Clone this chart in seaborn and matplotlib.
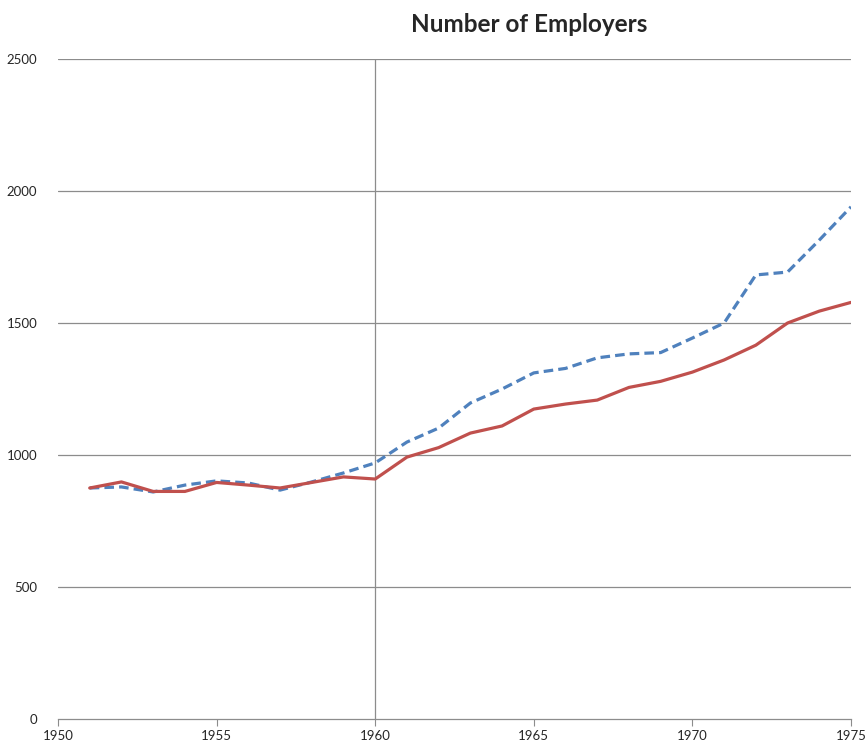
import matplotlib
matplotlib.use("Agg")
import matplotlib.pyplot as plt
import pandas as pd
import seaborn as sns

years = list(range(1951, 1976))
dashed_series = [875, 879, 860, 886, 902, 894, 867, 898, 932, 970,
                 1049, 1102, 1197, 1250, 1311, 1328, 1368, 1383, 1388, 1443,
                 1500, 1682, 1693, 1814, 1940]
solid_series = [875, 898, 862, 862, 896, 886, 875, 896, 917, 909,
                992, 1028, 1083, 1110, 1174, 1193, 1208, 1256, 1279, 1314,
                1360, 1416, 1500, 1545, 1578]
x_ticks = [1950, 1955, 1960, 1965, 1970, 1975]
y_ticks = [0, 500, 1000, 1500, 2000, 2500]

df = pd.DataFrame({
    "year": years * 2,
    "employers": dashed_series + solid_series,
    "series": ["dashed"] * len(years) + ["solid"] * len(years),
})

sns.set_style("white")
plt.rcParams["font.family"] = ["Lato", "DejaVu Sans"]

fig = plt.figure(figsize=(8.68, 7.46), dpi=100)
ax = fig.add_axes([58 / 868, 27 / 746, 793 / 868, 660 / 746])

grid_col = "#8c8c8c"
for v in y_ticks[1:]:
    ax.axhline(v, color=grid_col, lw=0.9, zorder=0)
ax.axvline(1960, color=grid_col, lw=0.9, zorder=0)

sns.lineplot(data=df, x="year", y="employers", hue="series", style="series",
             palette={"dashed": "#4F81BD", "solid": "#C0504D"},
             dashes={"dashed": (3, 1.6), "solid": ""},
             linewidth=2.3, legend=False, ax=ax)

ax.set_xlim(1950, 1975)
ax.set_ylim(0, 2500)
ax.set_xticks(x_ticks)
ax.set_yticks(y_ticks)
ax.set_xlabel("")
ax.set_ylabel("")
for s in ["left", "right", "top"]:
    ax.spines[s].set_visible(False)
ax.spines["bottom"].set_color(grid_col)
ax.spines["bottom"].set_linewidth(0.9)
ax.tick_params(axis="x", direction="out", length=5, color=grid_col,
               labelsize=9.5, pad=3, bottom=True)
ax.tick_params(axis="y", length=0, labelsize=9.5, pad=15, left=True)

fig.text(529 / 868, 1 - 25 / 746, "Number of Employers", ha="center",
         va="center", fontsize=17.5, fontweight="bold")

fig.savefig("out.png", dpi=100)
